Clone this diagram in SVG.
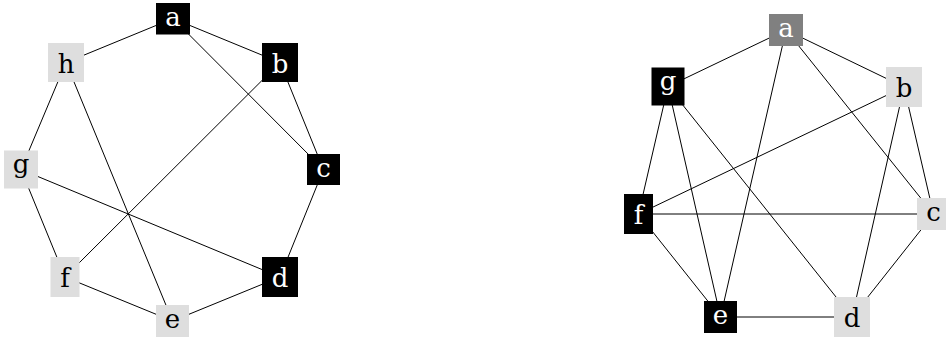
<svg xmlns="http://www.w3.org/2000/svg" width="946" height="338" viewBox="0 0 946 338">
<style>
.e{stroke:#000;stroke-width:1;fill:none}
.k rect{fill:#000}.k text{fill:#fff}
.l rect{fill:#dedede}.l text{fill:#000}
.m rect{fill:#808080}.m text{fill:#fff}
text{font-family:"DejaVu Serif","Liberation Serif",serif;font-size:26px;text-anchor:middle}
</style>
<rect width="946" height="338" fill="#fff"/>
<g id="connectors" class="e">
<line x1="173" y1="18.5" x2="66" y2="62.5"/>
<line x1="173" y1="18.5" x2="280" y2="62.5"/>
<line x1="173" y1="18.5" x2="323.5" y2="169.5"/>
<line x1="280" y1="62.5" x2="323.5" y2="169.5"/>
<line x1="280" y1="62.5" x2="65" y2="277"/>
<line x1="323.5" y1="169.5" x2="280" y2="277"/>
<line x1="280" y1="277" x2="172.5" y2="321"/>
<line x1="280" y1="277" x2="21" y2="169.5"/>
<line x1="172.5" y1="321" x2="65" y2="277"/>
<line x1="172.5" y1="321" x2="66" y2="62.5"/>
<line x1="65" y1="277" x2="21" y2="169.5"/>
<line x1="21" y1="169.5" x2="66" y2="62.5"/>
<line x1="786" y1="30" x2="668" y2="86.5"/>
<line x1="786" y1="30" x2="904" y2="87"/>
<line x1="786" y1="30" x2="933.5" y2="214"/>
<line x1="786" y1="30" x2="720.5" y2="317"/>
<line x1="904" y1="87" x2="638.5" y2="214"/>
<line x1="904" y1="87" x2="933.5" y2="214"/>
<line x1="904" y1="87" x2="852" y2="317"/>
<line x1="933.5" y1="214" x2="638.5" y2="214"/>
<line x1="933.5" y1="214" x2="852" y2="317"/>
<line x1="852" y1="317" x2="720.5" y2="317"/>
<line x1="852" y1="317" x2="668" y2="86.5"/>
<line x1="720.5" y1="317" x2="638.5" y2="214"/>
<line x1="720.5" y1="317" x2="668" y2="86.5"/>
<line x1="638.5" y1="214" x2="668" y2="86.5"/>
</g>
<g id="left-graph">
<g id="L-a" class="k"><rect x="156" y="3" width="34" height="31.5"/><text x="173" y="25.5">a</text></g>
<g id="L-b" class="k"><rect x="262" y="43" width="36" height="39"/><text x="280" y="73">b</text></g>
<g id="L-c" class="k"><rect x="307" y="154" width="33" height="31"/><text x="323.5" y="176.5">c</text></g>
<g id="L-d" class="k"><rect x="262" y="257" width="36" height="40"/><text x="280" y="287">d</text></g>
<g id="L-e" class="l"><rect x="156" y="305" width="33" height="32"/><text x="172.5" y="327.5">e</text></g>
<g id="L-f" class="l"><rect x="50.5" y="257" width="29" height="40"/><text x="65" y="287">f</text></g>
<g id="L-g" class="l"><rect x="4" y="150.5" width="34" height="38"/><text x="21" y="173">g</text></g>
<g id="L-h" class="l"><rect x="48" y="43" width="36" height="39"/><text x="66" y="73">h</text></g>
</g>
<g id="right-graph">
<g id="R-a" class="m"><rect x="769" y="14" width="34" height="32"/><text x="786" y="36.5">a</text></g>
<g id="R-b" class="l"><rect x="886" y="67" width="36" height="40"/><text x="904" y="97">b</text></g>
<g id="R-c" class="l"><rect x="917" y="198" width="33" height="32"/><text x="933.5" y="220.5">c</text></g>
<g id="R-d" class="l"><rect x="834" y="297" width="36" height="40"/><text x="852" y="327">d</text></g>
<g id="R-e" class="k"><rect x="704" y="301" width="33" height="32"/><text x="720.5" y="323.5">e</text></g>
<g id="R-f" class="k"><rect x="624" y="194" width="29" height="40"/><text x="638.5" y="224">f</text></g>
<g id="R-g" class="k"><rect x="651.5" y="67.5" width="33" height="38"/><text x="668" y="90">g</text></g>
</g>
</svg>
